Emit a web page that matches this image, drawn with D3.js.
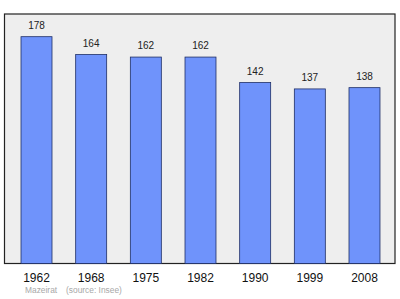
<!DOCTYPE html>
<html>
<head>
<meta charset="utf-8">
<script src="https://cdn.jsdelivr.net/npm/d3@7"></script>
<style>
  body { margin: 0; background: #fff; }
  text { font-family: "Liberation Sans", Arial, sans-serif; }
</style>
</head>
<body>
<svg width="400" height="299"></svg>
<script>
const years = ["1962", "1968", "1975", "1982", "1990", "1999", "2008"];
const population = [178, 164, 162, 162, 142, 137, 138];
const commune = "Mazeirat";
const source = "(source: Insee)";

const svg = d3.select("svg"),
      width = +svg.attr("width"),
      height = +svg.attr("height");

const frame = {left: 4.5, top: 14, right: 395, bottom: 263.5};

const colors = {
  bg: "#eeeeee",
  frame: "#222",
  bar: "#6f93fb",
  barStroke: "#1f2f66",
  footer: "#a8a8a8"
};

// bars start at ~21px and step ~54.7px
const x = d3.scaleBand()
    .domain(years)
    .range([frame.left, frame.left + 392])
    .paddingInner(0.433)
    .paddingOuter(0.302);

const y = d3.scaleLinear()
    .domain([0, d3.max(population) * 1.1])
    .range([frame.bottom, frame.top]);

// background frame
svg.append("rect")
  .attr("x", frame.left)
  .attr("y", frame.top)
  .attr("width", frame.right - frame.left)
  .attr("height", frame.bottom - frame.top)
  .attr("fill", colors.bg)
  .attr("stroke", colors.frame)
  .attr("stroke-width", 1.2);

// bars
svg.append("g").selectAll("rect")
  .data(population).enter().append("rect")
  .attr("x", (d, i) => x(years[i]))
  .attr("y", d => y(d))
  .attr("width", x.bandwidth())
  .attr("height", d => y(0) - y(d))
  .attr("fill", colors.bar)
  .attr("stroke", colors.barStroke)
  .attr("stroke-width", 0.8);

// value labels
svg.append("g").selectAll("text")
  .data(population).enter().append("text")
  .attr("x", (d, i) => x(years[i]) + x.bandwidth() / 2)
  .attr("y", d => y(d) - 8)
  .attr("text-anchor", "middle")
  .attr("font-size", 10)
  .attr("fill", "#222")
  .text(d => d);

// year labels
const axis = d3.axisBottom(x).tickSize(0).tickPadding(0);
svg.append("g")
  .attr("transform", `translate(0,${frame.bottom})`)
  .call(axis)
  .call(g => g.select(".domain").remove())
  .selectAll("text")
    .attr("dy", null)
    .attr("y", 18)
    .attr("font-size", 12)
    .attr("font-family", "Liberation Sans, Arial, sans-serif")
    .attr("fill", "#111");

// footer
svg.append("text")
  .attr("x", 25)
  .attr("y", 293)
  .attr("font-size", 8.4)
  .attr("fill", colors.footer)
  .text(commune);

svg.append("text")
  .attr("x", 66)
  .attr("y", 293)
  .attr("font-size", 8.4)
  .attr("fill", colors.footer)
  .text(source);
</script>
</body>
</html>
